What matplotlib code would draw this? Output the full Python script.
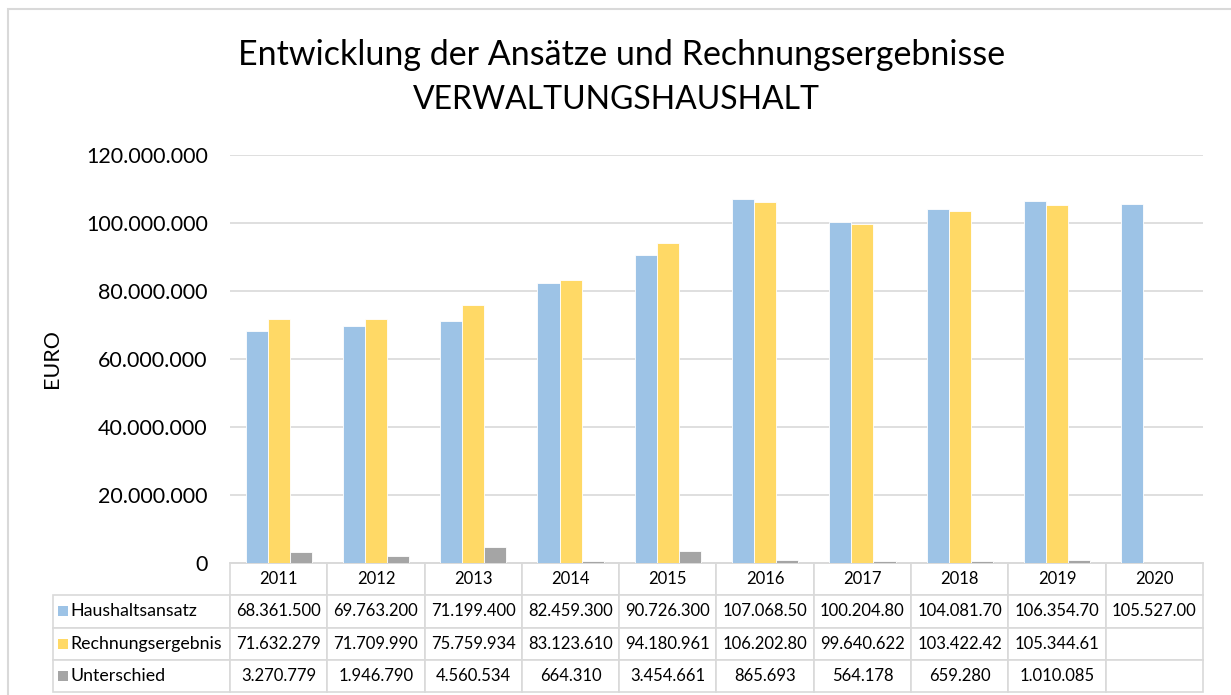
import numpy as np
import matplotlib.pyplot as plt
from matplotlib.patches import Rectangle
from matplotlib.ticker import FuncFormatter

plt.rcParams['font.family'] = ['Lato', 'DejaVu Sans']

# data
years = ['2011', '2012', '2013', '2014', '2015', '2016', '2017', '2018', '2019', '2020']
haushaltsansatz = [68361500, 69763200, 71199400, 82459300, 90726300,
                   107068500, 100204800, 104081700, 106354700, 105527000]
rechnungsergebnis = [71632279, 71709990, 75759934, 83123610, 94180961,
                     106202807, 99640622, 103422420, 105344615, None]
unterschied = [3270779, 1946790, 4560534, 664310, 3454661,
               865693, 564178, 659280, 1010085, None]
series_names = ['Haushaltsansatz', 'Rechnungsergebnis', 'Unterschied']
colors = ['#9DC3E6', '#FFD966', '#A5A5A5']
grid_col = '#D9D9D9'


def de(v):
    # German thousands separator, cut like a narrow Excel cell
    if v is None:
        return ''
    return f"{v:,}".replace(',', '.')[:10]


W, H = 1231, 695
fig = plt.figure(figsize=(W / 100, H / 100), dpi=100)
ax = fig.add_axes([230 / W, (H - 563) / H, (1203 - 230) / W, (563 - 155) / H])

x = np.arange(len(years))
bw = 0.227
all_series = [haushaltsansatz, rechnungsergebnis, unterschied]
for i, (vals, c) in enumerate(zip(all_series, colors)):
    v = np.array([np.nan if a is None else a for a in vals], dtype=float)
    ax.bar(x + (i - 1) * bw, v, width=bw, color=c, edgecolor='white', linewidth=0.6, zorder=3)

ax.set_xlim(-0.5, len(years) - 0.5)
ax.set_ylim(0, 120000000)
ax.set_yticks(np.arange(0, 120000001, 20000000))
ax.yaxis.set_major_formatter(FuncFormatter(lambda v, p: f"{int(v):,}".replace(',', '.')))
ax.tick_params(axis='y', length=0, pad=16, labelsize=15.5)
ax.set_xticks([])
ax.grid(axis='y', color=grid_col, linewidth=1.2, zorder=0)
for s in ['top', 'right', 'left']:
    ax.spines[s].set_visible(False)
ax.spines['bottom'].set_color(grid_col)
ax.spines['bottom'].set_linewidth(1.2)
ax.set_ylabel('EURO', fontsize=15.5)
ax.yaxis.set_label_coords((62 - 230) / 973, 0.5)

# data table below the plot
lab_w = 177 / 973
tab_h = 129 / 408
cell_text = [[''] + years]
for name, vals in zip(series_names, all_series):
    cell_text.append([name] + [de(v) for v in vals])
tbl = ax.table(cellText=cell_text, colWidths=[lab_w] + [0.1] * len(years),
               bbox=[-lab_w, -tab_h, 1 + lab_w, tab_h], cellLoc='center')
tbl.auto_set_font_size(False)
tbl.set_fontsize(12)
for (r, c), cell in tbl.get_celld().items():
    cell.set_edgecolor(grid_col)
    cell.set_linewidth(1.2)
    if r == 0 and c == 0:
        cell.visible_edges = ''
    if c == 0 and r > 0:
        cell._loc = 'left'
        cell.get_text().set_ha('left')
        cell.get_text().set_fontsize(12.8)
        cell.PAD = 0.1

# legend keys in the row label cells
for i, c in enumerate(colors):
    yc = -tab_h + tab_h * (1 - (i + 1.5) / 4)
    ax.add_patch(Rectangle(((58 - 230) / 973, yc - 5 / 408), 10 / 973, 10 / 408,
                           transform=ax.transAxes, facecolor=c, edgecolor='none',
                           clip_on=False))

fig.text(622 / W, 1 - 55 / H, 'Entwicklung der Ansätze und Rechnungsergebnisse',
         ha='center', va='center', fontsize=24.5)
fig.text(616 / W, 1 - 100 / H, 'VERWALTUNGSHAUSHALT',
         ha='center', va='center', fontsize=23)

# chart area border
fig.patches.append(Rectangle((8 / W, -0.1), 1.2, 1 - 9 / H + 0.1, transform=fig.transFigure,
                             fill=False, edgecolor=grid_col, linewidth=1.5))

fig.savefig('out.png', dpi=100)
